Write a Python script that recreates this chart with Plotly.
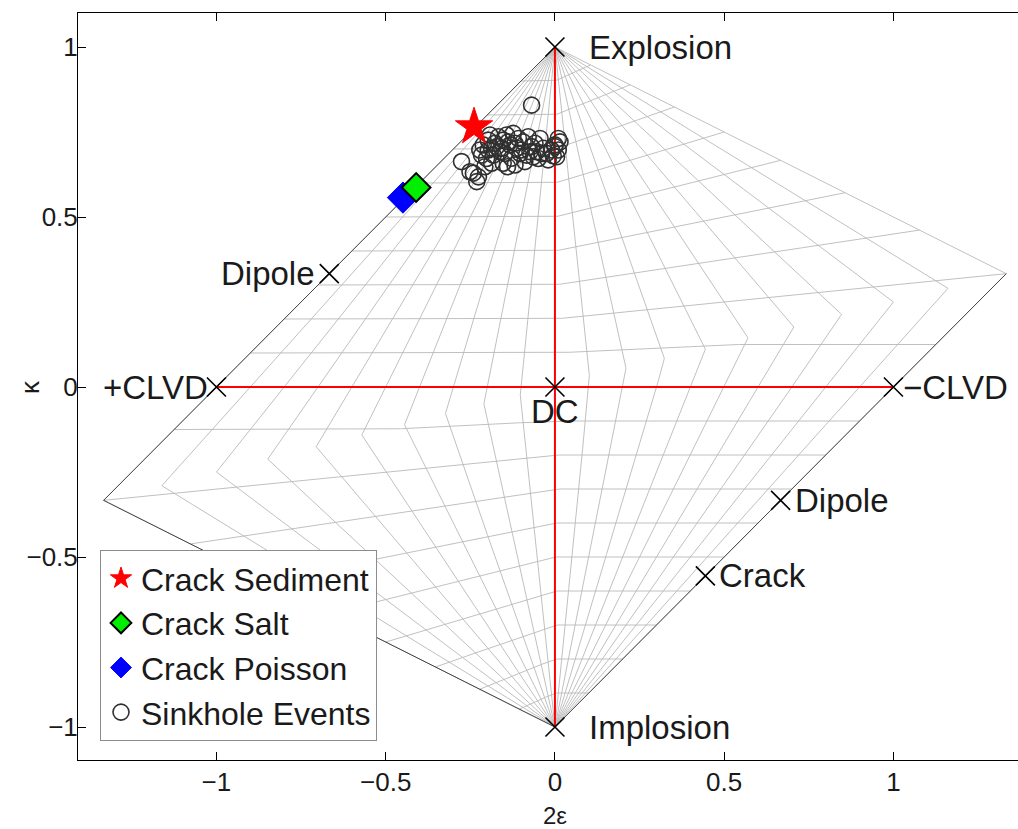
import numpy as np
import plotly.graph_objects as go

# ---------------- data ----------------
# reference source types (Hudson plot coordinates: 2*epsilon, kappa)
ref_labels = ["Explosion", "Implosion", "+CLVD", "\u2212CLVD", "DC", "Dipole", "Dipole", "Crack"]
ref_x = [0.0, 0.0, -1.0, 1.0, 0.0, -2/3, 2/3, 4/9]
ref_y = [1.0, -1.0, 0.0, 0.0, 0.0, 1/3, -1/3, -5/9]

# modelled cracks
crack_sediment_x = [-0.239]
crack_sediment_y = [0.765]
crack_salt_x = [-0.410]
crack_salt_y = [0.587]
crack_poisson_x = [-0.449]
crack_poisson_y = [0.557]

# sinkhole events
sink_x = [-0.069, -0.276, -0.241, -0.231, -0.251, -0.207, -0.222, -0.212, -0.197, -0.192,
          -0.187, -0.177, -0.162, -0.153, -0.143, -0.133, -0.128, -0.123, -0.118, -0.113,
          -0.103, -0.094, -0.089, -0.079, -0.069, -0.064, -0.054, -0.044, -0.034, -0.025,
          -0.020, -0.010, 0.000, 0.005, 0.015, -0.202, -0.182, -0.172, -0.167, -0.157,
          -0.148, -0.138, -0.118, -0.108, -0.099, -0.084, -0.074, -0.059, -0.049, -0.039,
          0.010, -0.187, -0.217, -0.197, -0.153, -0.226, -0.140, 0.010, 0.000, -0.005]
sink_y = [0.829, 0.663, 0.629, 0.604, 0.633, 0.648, 0.697, 0.712, 0.726, 0.741,
          0.702, 0.717, 0.692, 0.726, 0.741, 0.712, 0.673, 0.746, 0.653, 0.702,
          0.687, 0.721, 0.663, 0.736, 0.707, 0.677, 0.692, 0.731, 0.702, 0.687,
          0.668, 0.697, 0.712, 0.677, 0.721, 0.672, 0.682, 0.707, 0.736, 0.702,
          0.687, 0.721, 0.717, 0.731, 0.697, 0.682, 0.692, 0.717, 0.672, 0.687,
          0.697, 0.658, 0.682, 0.697, 0.658, 0.618, 0.648, 0.731, 0.707, 0.680]

# Hudson grid levels
grid_T = [-1.0, -0.9, -0.8, -0.7, -0.6, -0.5, -0.4, -0.3, -0.2, -0.1, 0.0,
          0.1, 0.2, 0.3, 0.4, 0.5, 0.6, 0.7, 0.8, 0.9, 1.0]
grid_k = [-0.9, -0.8, -0.7, -0.6, -0.5, -0.4, -0.3, -0.2, -0.1, 0.0,
          0.1, 0.2, 0.3, 0.4, 0.5, 0.6, 0.7, 0.8, 0.9]

x_ticks = [-1, -0.5, 0, 0.5, 1]
x_ticktext = ["\u22121", "\u22120.5", "0", "0.5", "1"]
y_ticks = [-1, -0.5, 0, 0.5, 1]
y_ticktext = ["\u22121", "\u22120.5", "0", "0.5", "1"]


# ---------------- Hudson projection ----------------
def hudson_uv(T, k):
    T, k = np.broadcast_arrays(np.asarray(T, float), np.asarray(k, float))
    T = T.copy(); k = k.copy()
    tau = T * (1 - np.abs(k))
    u = tau.copy(); v = k.copy()
    q1 = (tau > 0) & (k > 0)
    a = q1 & (tau < 4 * k)
    b = q1 & ~(tau < 4 * k)
    u[a] = tau[a] / (1 - tau[a] / 2); v[a] = k[a] / (1 - tau[a] / 2)
    u[b] = tau[b] / (1 - 2 * k[b]); v[b] = k[b] / (1 - 2 * k[b])
    q3 = (tau < 0) & (k < 0)
    c = q3 & (tau > 4 * k)
    d = q3 & ~(tau > 4 * k)
    u[c] = tau[c] / (1 + tau[c] / 2); v[c] = k[c] / (1 + tau[c] / 2)
    u[d] = tau[d] / (1 + 2 * k[d]); v[d] = k[d] / (1 + 2 * k[d])
    return u, v


samp = np.linspace(-1, 1, 801)
gx, gy = [], []
for T in grid_T:
    ks = list(samp)
    if T > 0:
        ks.append(T / (4 + T))
    if T < 0:
        ks.append(T / (4 - T))
    ks = np.sort(np.array(ks))
    u, v = hudson_uv(T, ks)
    gx += list(u) + [None]
    gy += list(v) + [None]
for K in grid_k:
    Ts = list(samp)
    if 0 < K <= 0.2:
        Ts.append(4 * K / (1 - K))
    if -0.2 <= K < 0:
        Ts.append(4 * K / (1 + K))
    Ts = np.sort(np.array(Ts))
    u, v = hudson_uv(Ts, K)
    gx += list(u) + [None]
    gy += list(v) + [None]

# outline (darker) : T=-1 full line and T=+1 from implosion to the right corner
k_dn = np.sort(np.concatenate([np.linspace(-1, 1, 401), [-1 / 5]]))[::-1]
ou1, ov1 = hudson_uv(-1.0, k_dn)
k_up = np.sort(np.concatenate([np.linspace(-1, 0.2, 241), [0.2]]))
ou2, ov2 = hudson_uv(1.0, k_up)
ox = list(ou1) + [None] + list(ou2)
oy = list(ov1) + [None] + list(ov2)

FONT = "Liberation Sans, Arial, Helvetica, sans-serif"
LABEL_SIZE = 33

fig = go.Figure()
fig.add_trace(go.Scatter(x=gx, y=gy, mode="lines", line=dict(color="rgb(185,185,185)", width=0.9),
                         hoverinfo="skip", showlegend=False))
fig.add_trace(go.Scatter(x=ox, y=oy, mode="lines", line=dict(color="rgb(70,70,70)", width=1),
                         hoverinfo="skip", showlegend=False))
# red axes lines between reference points
fig.add_trace(go.Scatter(x=[ref_x[2], ref_x[3], None, ref_x[1], ref_x[0]],
                         y=[ref_y[2], ref_y[3], None, ref_y[1], ref_y[0]],
                         mode="lines", line=dict(color="#ff0000", width=2),
                         hoverinfo="skip", showlegend=False))
fig.add_trace(go.Scatter(x=ref_x, y=ref_y, mode="markers",
                         marker=dict(symbol="x-thin", size=19, line=dict(color="black", width=1.6)),
                         showlegend=False))

fig.add_trace(go.Scatter(x=sink_x, y=sink_y, mode="markers", name="Sinkhole Events",
                         marker=dict(symbol="circle-open", size=16, color="#303030",
                                     line=dict(color="#303030", width=1.6)),
                         legendrank=4))
fig.add_trace(go.Scatter(x=crack_sediment_x, y=crack_sediment_y, mode="markers", name="Crack Sediment",
                         marker=dict(symbol="star", size=28, color="#ff0000", line=dict(color="#ff0000", width=1)),
                         legendrank=1))
fig.add_trace(go.Scatter(x=crack_poisson_x, y=crack_poisson_y, mode="markers", name="Crack Poisson",
                         marker=dict(symbol="diamond", size=24, color="#0000ff", line=dict(color="#0000ff", width=1)),
                         legendrank=3))
fig.add_trace(go.Scatter(x=crack_salt_x, y=crack_salt_y, mode="markers", name="Crack Salt",
                         marker=dict(symbol="diamond", size=22, color="#00ee00", line=dict(color="black", width=2)),
                         legendrank=2))

# labels of reference points
label_pos = {
    0: dict(xanchor="left", yanchor="middle", xshift=32, yshift=0),
    1: dict(xanchor="left", yanchor="middle", xshift=32, yshift=0),
    2: dict(xanchor="right", yanchor="middle", xshift=-6, yshift=0),
    3: dict(xanchor="left", yanchor="middle", xshift=8, yshift=0),
    4: dict(xanchor="center", yanchor="top", xshift=0, yshift=-4),
    5: dict(xanchor="right", yanchor="middle", xshift=-12, yshift=0),
    6: dict(xanchor="left", yanchor="middle", xshift=12, yshift=0),
    7: dict(xanchor="left", yanchor="middle", xshift=12, yshift=0),
}
for i, lab in enumerate(ref_labels):
    p = label_pos[i]
    fig.add_annotation(x=ref_x[i], y=ref_y[i], xref="x", yref="y", text=lab, showarrow=False,
                       font=dict(family=FONT, size=LABEL_SIZE, color="#1a1a1a"), **p)

# axis titles
fig.add_annotation(x=(555 - 78) / 940, y=(760 - 815) / 747, xref="paper", yref="paper",
                   text="2\u03b5", showarrow=False, xanchor="center", yanchor="middle",
                   font=dict(family=FONT, size=24, color="#1a1a1a"), borderpad=0)
fig.add_annotation(x=(30 - 78) / 940, y=(760 - 387) / 747, xref="paper", yref="paper",
                   text="\u03ba", showarrow=False, xanchor="center", yanchor="middle", textangle=-90,
                   font=dict(family=FONT, size=26, color="#1a1a1a"))

fig.update_layout(
    width=1018, height=829,
    margin=dict(l=78, r=0, t=13, b=69),
    plot_bgcolor="white", paper_bgcolor="white",
    font=dict(family=FONT, size=26, color="#1a1a1a"),
    legend=dict(x=(100 - 78) / 940, y=(760 - 741) / 747, xanchor="left", yanchor="bottom",
                bgcolor="white", bordercolor="rgb(140,140,140)", borderwidth=1,
                font=dict(family=FONT, size=32, color="#1a1a1a"), tracegroupgap=0),
    xaxis=dict(range=[-1.409, 1.368], tickvals=x_ticks, ticktext=x_ticktext, ticks="inside",
               ticklen=8, tickcolor="black", showline=True, linecolor="black", linewidth=1,
               mirror="ticks", showgrid=False, zeroline=False, ticklabelstandoff=-1,
               tickfont=dict(size=26)),
    yaxis=dict(range=[-1.097, 1.1], tickvals=y_ticks, ticktext=y_ticktext, ticks="inside",
               ticklen=8, tickcolor="black", showline=True, linecolor="black", linewidth=1,
               mirror=False, showgrid=False, zeroline=False, ticklabelstandoff=-6,
               tickfont=dict(size=26)),
)

fig.write_html("out.html")
